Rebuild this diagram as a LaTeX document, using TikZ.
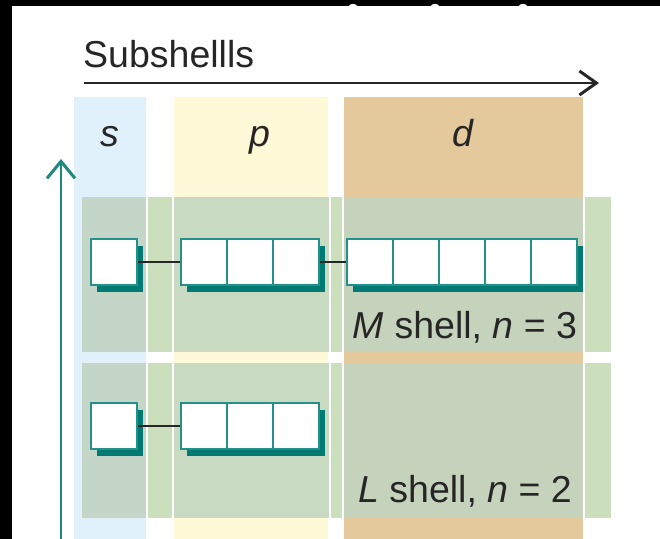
\documentclass[tikz,border=0pt]{standalone}
\usepackage{fontspec}
\setmainfont{Liberation Sans}
\usetikzlibrary{arrows.meta,shadows}
\definecolor{colS}{HTML}{E0F1FB}
\definecolor{colP}{HTML}{FFF9D7}
\definecolor{colD}{HTML}{E3C99B}
\definecolor{onS}{HTML}{C3D6C7}
\definecolor{onGap}{HTML}{CCDFBD}
\definecolor{onP}{HTML}{C8DAC2}
\definecolor{onD}{HTML}{C5D3BD}
\definecolor{tealedge}{HTML}{23908A}
\definecolor{tealshadow}{HTML}{007A72}
\definecolor{tealaxis}{HTML}{1E877E}
\definecolor{inkc}{HTML}{262626}
\tikzset{
  cell/.style={draw=tealedge, line width=1.2bp, fill=white, minimum width=46bp, minimum height=46bp, inner sep=0pt,
    drop shadow={shadow xshift=6bp, shadow yshift=-7bp, fill=tealshadow, opacity=1}},
  conn/.style={draw=inkc, line width=1.4bp},
  lbl/.style={text=inkc, font=\fontsize{37.5bp}{40bp}\selectfont, inner sep=0pt, anchor=base},
}
\begin{document}
\begin{tikzpicture}[x=1bp,y=-1bp]
\useasboundingbox (0,0) rectangle (660,539);
\fill[white] (0,0) rectangle (660,539);
% frame strips
\fill[black] (0,0) rectangle (660,6);
\fill[black] (0,0) rectangle (12,539);
\foreach \bx in {353,435,523} \fill[white] (\bx,7) ellipse (4.5 and 3.2);
% columns
\fill[colS] (74,97) rectangle (146,539);
\fill[colP] (174,97) rectangle (328,539);
\fill[colD] (344,97) rectangle (583,539);
% rows
\foreach \t/\b in {197/352,363/518}{
  \fill[onS] (82,\t) rectangle (146,\b);
  \fill[onGap] (148,\t) rectangle (172,\b);
  \fill[onP] (174,\t) rectangle (329,\b);
  \fill[onGap] (331,\t) rectangle (342,\b);
  \fill[onD] (344,\t) rectangle (583,\b);
  \fill[onGap] (585,\t) rectangle (611,\b);
}
% axes
\coordinate (hs) at (84,83);
\coordinate (he) at (599,83);
\draw[draw=inkc, line width=1.6bp, -{Straight Barb[length=17bp,width=24bp,line width=3bp]}] (hs) -- (he);
\coordinate (vs) at (61,545);
\coordinate (ve) at (61,159);
\draw[draw=tealaxis, line width=2.2bp, -{Straight Barb[length=17bp,width=28bp,line width=3bp]}] (vs) -- (ve);
% titles
\node[lbl, anchor=base west] (title) at (83,68) {Subshellls};
\node[lbl] (ls) at (110,147) {\itshape s};
\node[lbl] (lp) at (260,147) {\itshape p};
\node[lbl] (ld) at (463,147) {\itshape d};
% M shell boxes
\node[cell] (ms) at (114,262) {};
\node[cell] (mp1) at (204,262) {};
\node[cell] (mp2) at (250,262) {};
\node[cell] (mp3) at (296,262) {};
\node[cell] (md1) at (370,262) {};
\node[cell] (md2) at (416,262) {};
\node[cell] (md3) at (462,262) {};
\node[cell] (md4) at (508,262) {};
\node[cell] (md5) at (554,262) {};
\draw[conn] (ms.east) -- (mp1.west);
\draw[conn] (mp3.east) -- (md1.west);
% L shell boxes
\node[cell] (ls1) at (114,426) {};
\node[cell] (lp1) at (204,426) {};
\node[cell] (lp2) at (250,426) {};
\node[cell] (lp3) at (296,426) {};
\draw[conn] (ls1.east) -- (lp1.west);
% shell labels
\node[lbl] (mlab) at (465,338) {\itshape M\upshape{} shell, \itshape n\upshape{} = 3};
\node[lbl] (llab) at (465,502) {\itshape L\upshape{} shell, \itshape n\upshape{} = 2};
\end{tikzpicture}
\end{document}
